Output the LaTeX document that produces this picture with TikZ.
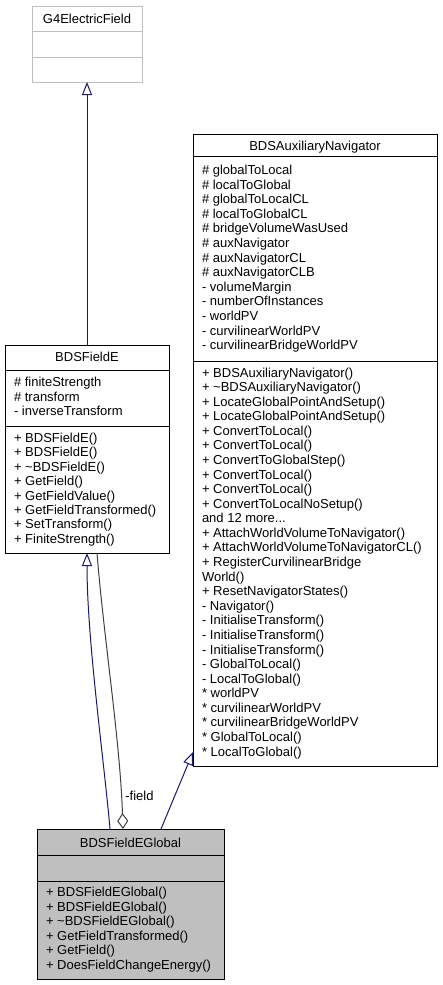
\documentclass[tikz,border=0pt]{standalone}
\usepackage{fontspec}
\setmainfont{Liberation Sans}
\usetikzlibrary{arrows.meta,calc}
\definecolor{navyline}{HTML}{191970}
\definecolor{grayline}{HTML}{404040}
\definecolor{boxgray}{HTML}{BFBFBF}
\newcommand\threedots{...}
\begin{document}
\begin{tikzpicture}[x=1pt,y=-1pt,
  every node/.style={font=\fontsize{13}{14.6}\selectfont, inner sep=0pt, outer sep=0pt},
  classbox/.style={draw, line width=1pt, anchor=north west, inner sep=0pt, outer sep=0pt},
  txt/.style={anchor=base west},
  ttl/.style={anchor=base},
  inherit/.style={draw=navyline, line width=1pt, -{Triangle[open,length=13pt,width=10pt]}},
  aggr/.style={draw=grayline, line width=1pt, -{Diamond[open,length=16pt,width=11pt]}}]
\useasboundingbox (0,0) rectangle (442,985);

% G4ElectricField
\node[classbox, draw=boxgray, minimum width=110pt, minimum height=76pt] (g4) at (32,6) {};
\draw[boxgray, line width=1pt] ($(g4.north west)+(0,25)$) -- ($(g4.north east)+(0,25)$);
\draw[boxgray, line width=1pt] ($(g4.north west)+(0,51)$) -- ($(g4.north east)+(0,51)$);
\node[ttl] (g4t) at (87,23.5) {G4ElectricField};

% BDSFieldE
\node[classbox, minimum width=164pt, minimum height=208pt] (fe) at (5,345) {};
\draw[line width=1pt] ($(fe.north west)+(0,25)$) -- ($(fe.north east)+(0,25)$);
\draw[line width=1pt] ($(fe.north west)+(0,81)$) -- ($(fe.north east)+(0,81)$);
\node[ttl] (fet) at (87,361.5) {BDSFieldE};
\foreach \t [count=\i] in {\# finiteStrength, \# transform, - inverseTransform}
  \node[txt] (fea\i) at (14,{386.5+14.55*(\i-1)}) {\t};
\foreach \t [count=\i] in {+ BDSFieldE(), + BDSFieldE(), + \textasciitilde BDSFieldE(), + GetField(), + GetFieldValue(), + GetFieldTransformed(), + SetTransform(), + FiniteStrength()}
  \node[txt] (fem\i) at (14,{442.5+14.4*(\i-1)}) {\t};

% BDSAuxiliaryNavigator
\node[classbox, minimum width=244pt, minimum height=632pt] (nav) at (193,134) {};
\draw[line width=1pt] ($(nav.north west)+(0,22)$) -- ($(nav.north east)+(0,22)$);
\draw[line width=1pt] ($(nav.north west)+(0,227)$) -- ($(nav.north east)+(0,227)$);
\node[ttl] (navt) at (315,150.5) {BDSAuxiliaryNavigator};
\foreach \t [count=\i] in {\# globalToLocal, \# localToGlobal, \# globalToLocalCL, \# localToGlobalCL, \# bridgeVolumeWasUsed, \# auxNavigator, \# auxNavigatorCL, \# auxNavigatorCLB, - volumeMargin, - numberOfInstances, - worldPV, - curvilinearWorldPV, - curvilinearBridgeWorldPV}
  \node[txt] (nava\i) at (202,{174.5+14.6*(\i-1)}) {\t};
\foreach \t [count=\i] in {+ BDSAuxiliaryNavigator(), + \textasciitilde BDSAuxiliaryNavigator(), + LocateGlobalPointAndSetup(), + LocateGlobalPointAndSetup(), + ConvertToLocal(), + ConvertToLocal(), + ConvertToGlobalStep(), + ConvertToLocal(), + ConvertToLocal(), + ConvertToLocalNoSetup(), and 12 more\threedots, + AttachWorldVolumeToNavigator(), + AttachWorldVolumeToNavigatorCL(), + RegisterCurvilinearBridge, World(), + ResetNavigatorStates(), - Navigator(), - InitialiseTransform(), - InitialiseTransform(), - InitialiseTransform(), - GlobalToLocal(), - LocalToGlobal(), * worldPV, * curvilinearWorldPV, * curvilinearBridgeWorldPV, * GlobalToLocal(), * LocalToGlobal()}
  \node[txt] (navm\i) at (202,{377+14.58*(\i-1)}) {\t};

% BDSFieldEGlobal
\node[classbox, fill=boxgray, minimum width=187pt, minimum height=150pt] (glob) at (37,829) {};
\draw[line width=1pt] ($(glob.north west)+(0,26)$) -- ($(glob.north east)+(0,26)$);
\draw[line width=1pt] ($(glob.north west)+(0,52)$) -- ($(glob.north east)+(0,52)$);
\node[ttl] (globt) at (130.5,847.5) {BDSFieldEGlobal};
\foreach \t [count=\i] in {+ BDSFieldEGlobal(), + BDSFieldEGlobal(), + \textasciitilde BDSFieldEGlobal(), + GetFieldTransformed(), + GetField(), + DoesFieldChangeEnergy()}
  \node[txt] (globm\i) at (46,{896.5+14.6*(\i-1)}) {\t};

% connectors
\coordinate (gl1) at (110,829);
\coordinate (gl2) at (123,829);
\coordinate (gl3) at (161,829);
\coordinate (fe2) at (97,553);
\coordinate (nav3) at (193,752);
\draw[inherit] (fe.north) -- (g4.south);
\draw[inherit] (gl1) .. controls (104,760) and (87,640) .. (fe.south);
\draw[aggr] (fe2) .. controls (104,640) and (120,740) .. (gl2);
\node (lbl) at (139.5,796) {-field};
\draw[inherit] (gl3) -- (nav3);
\end{tikzpicture}
\end{document}
